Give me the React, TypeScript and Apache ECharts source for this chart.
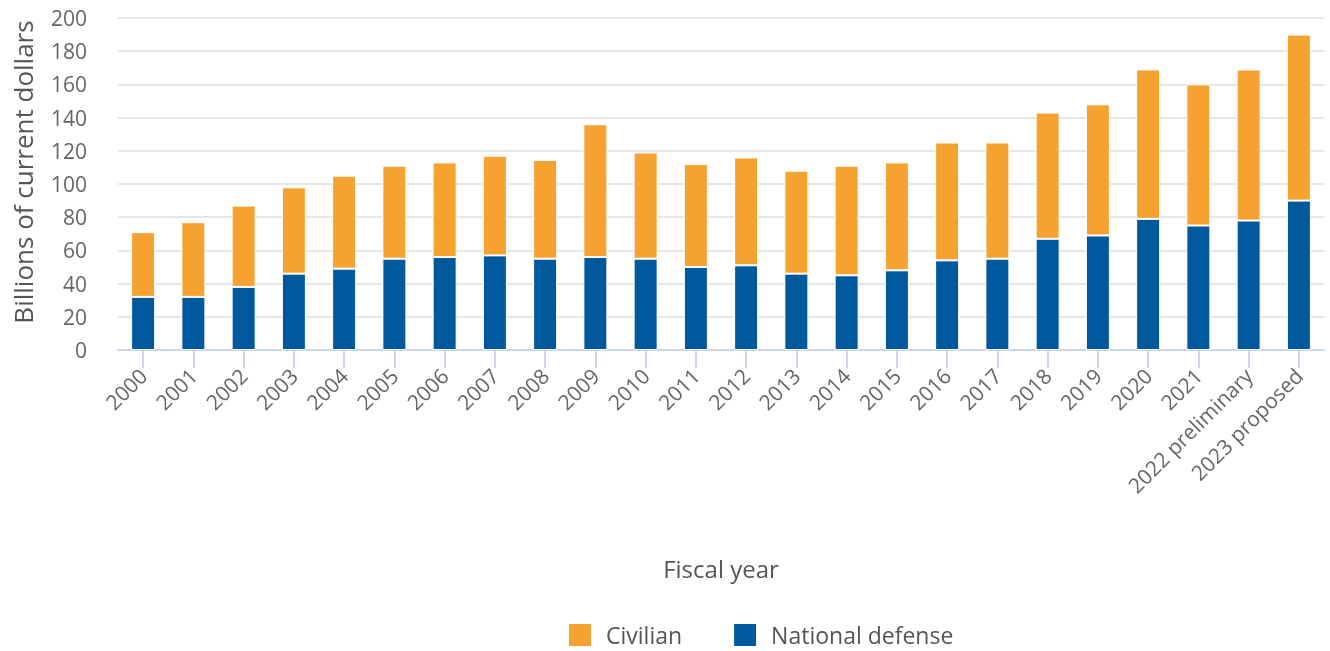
import React, { useEffect, useRef } from "react";
import * as echarts from "echarts";

const categories = [
  "2000", "2001", "2002", "2003", "2004", "2005", "2006", "2007", "2008", "2009",
  "2010", "2011", "2012", "2013", "2014", "2015", "2016", "2017", "2018", "2019",
  "2020", "2021", "2022 preliminary", "2023 proposed",
];
const nationalDefense = [
  32, 32, 38, 46, 49, 55, 56, 57, 55, 56,
  55, 50, 51, 46, 45, 48, 54, 55, 67, 69,
  79, 75, 78, 90,
];
const civilian = [
  39, 45, 49, 52, 56, 56, 57, 60, 59.5, 80,
  64, 62, 65, 62, 66, 65, 71, 70, 76, 79,
  90, 85, 91, 100,
];
const yTicks = { min: 0, max: 200, interval: 20 };
const yAxisTitle = "Billions of current dollars";
const xAxisTitle = "Fiscal year";

const FONT = "'Open Sans', 'Noto Sans', sans-serif";

export default function App() {
  const ref = useRef<HTMLDivElement>(null);
  useEffect(() => {
    if (!ref.current) return;
    const chart = echarts.init(ref.current, undefined, { renderer: "svg" });
    chart.setOption({
      animation: false,
      grid: { left: 118, right: 6, top: 18, bottom: 301, containLabel: false },
      legend: {
        left: 567,
        top: 622,
        padding: 0,
        itemWidth: 24,
        itemHeight: 24,
        itemGap: 50,
        icon: "rect",
        data: ["Civilian", "National defense"],
        textStyle: {
          fontFamily: FONT,
          fontSize: 23,
          lineHeight: 24,
          color: "#555",
          padding: [0, 0, 0, 9],
        },
      },
      graphic: [
        {
          type: "text",
          x: 23,
          y: 172,
          rotation: Math.PI / 2,
          style: {
            text: yAxisTitle,
            fontFamily: FONT,
            fontSize: 26,
            fill: "#555",
            align: "center",
            verticalAlign: "middle",
          },
        },
      ],
      xAxis: {
        type: "category",
        data: categories,
        name: xAxisTitle,
        nameLocation: "middle",
        nameGap: 206,
        nameTextStyle: { fontFamily: FONT, fontSize: 24, color: "#555" },
        axisLine: { show: true, lineStyle: { color: "#ccd6eb", width: 2 } },
        axisTick: { show: true, alignWithLabel: true, length: 18, lineStyle: { color: "#ccd6eb", width: 2 } },
        axisLabel: {
          rotate: 45,
          margin: 22,
          interval: 0,
          fontFamily: FONT,
          fontSize: 21,
          color: "#666",
        },
      },
      yAxis: {
        type: "value",
        min: yTicks.min,
        max: yTicks.max,
        interval: yTicks.interval,
        axisLine: { show: false },
        axisTick: { show: false },
        axisLabel: { margin: 31, fontFamily: FONT, fontSize: 21, color: "#666" },
        splitLine: { lineStyle: { color: "#e6e6e6", width: 2 } },
      },
      series: [
        {
          name: "National defense",
          type: "bar",
          stack: "total",
          barWidth: 24,
          data: nationalDefense,
          itemStyle: { color: "#00599c", borderColor: "#fff", borderWidth: 1 },
        },
        {
          name: "Civilian",
          type: "bar",
          stack: "total",
          barWidth: 24,
          data: civilian,
          itemStyle: { color: "#f5a231", borderColor: "#fff", borderWidth: 1 },
        },
      ],
    });
    return () => chart.dispose();
  }, []);
  return <div ref={ref} style={{ position: "fixed", left: 0, top: 0, width: 1330, height: 651 }} />;
}
